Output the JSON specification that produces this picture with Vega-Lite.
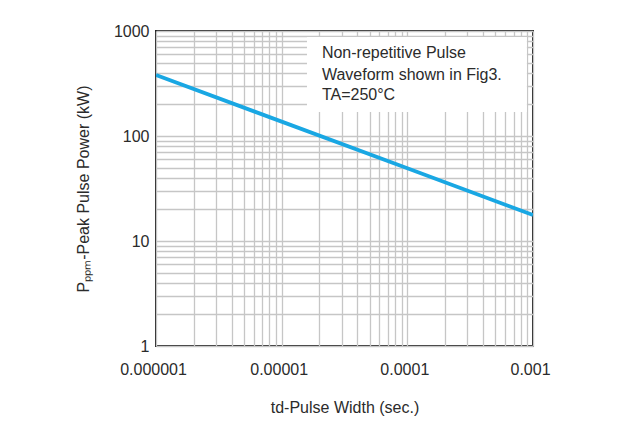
{
  "$schema": "https://vega.github.io/schema/vega-lite/v6.json",
  "width": 377,
  "height": 315,
  "autosize": {"type": "none"},
  "padding": {"left": 156, "top": 31, "right": 91, "bottom": 92},
  "background": "white",
  "config": {
    "font": "Liberation Sans",
    "view": {"stroke": "#222222", "strokeWidth": 2},
    "axis": {
      "domain": false,
      "ticks": false,
      "grid": true,
      "gridColor": "#c6c6c6",
      "gridWidth": 1.3,
      "labelFont": "Liberation Sans",
      "labelFontSize": 16,
      "labelColor": "#2b2b2b",
      "titleFont": "Liberation Sans",
      "titleFontSize": 16,
      "titleFontWeight": "normal",
      "titleColor": "#2b2b2b"
    }
  },
  "datasets": {
    "box": [{"x": 1.59e-5, "x2": 8.94e-4, "y": 169, "y2": 877}],
    "curve": [
      {"x": 1e-6, "y": 381},
      {"x": 1e-5, "y": 137},
      {"x": 1e-4, "y": 49.3},
      {"x": 1e-3, "y": 17.7}
    ],
    "notes": [
      {"x": 2.09e-5, "y": 617, "label": "Non-repetitive Pulse"},
      {"x": 2.09e-5, "y": 381, "label": "Waveform shown in Fig3."},
      {"x": 2.09e-5, "y": 246, "label": "TA=250°C"}
    ]
  },
  "encoding": {
    "x": {
      "field": "x",
      "type": "quantitative",
      "scale": {"type": "log", "domain": [0.000001, 0.001], "nice": false},
      "axis": {
        "title": "td-Pulse Width (sec.)",
        "values": [0.000001, 0.000002, 0.000003, 0.000004, 0.000005, 0.000006, 0.000007, 0.000008, 0.000009,
                   0.00001, 0.00002, 0.00003, 0.00004, 0.00005, 0.00006, 0.00007, 0.00008, 0.00009,
                   0.0001, 0.0002, 0.0003, 0.0004, 0.0005, 0.0006, 0.0007, 0.0008, 0.0009, 0.001],
        "format": ".6~f",
        "labelExpr": "abs(log(datum.value)/LN10 - round(log(datum.value)/LN10)) < 0.001 ? datum.label : ''",
        "labelFlush": false,
        "labelOverlap": false,
        "labelPadding": 15,
        "labelOffset": -3,
        "titlePadding": 22
      }
    },
    "y": {
      "field": "y",
      "type": "quantitative",
      "scale": {"type": "log", "domain": [1, 1000], "nice": false},
      "axis": {
        "title": "Pₚₚₘ-Peak Pulse Power (kW)",
        "values": [1, 2, 3, 4, 5, 6, 7, 8, 9, 10, 20, 30, 40, 50, 60, 70, 80, 90, 100, 200, 300, 400, 500, 600, 700, 800, 900, 1000],
        "format": "d",
        "labelExpr": "abs(log(datum.value)/LN10 - round(log(datum.value)/LN10)) < 0.001 ? datum.label : ''",
        "labelFlush": false,
        "labelOverlap": false,
        "labelPadding": 7,
        "titlePadding": 22
      }
    }
  },
  "layer": [
    {
      "data": {"name": "box"},
      "mark": {"type": "rect", "fill": "white", "stroke": null},
      "encoding": {"x2": {"field": "x2"}, "y2": {"field": "y2"}}
    },
    {
      "data": {"name": "curve"},
      "mark": {"type": "line", "color": "#19a7e3", "strokeWidth": 3.8, "clip": true}
    },
    {
      "data": {"name": "notes"},
      "mark": {"type": "text", "align": "left", "baseline": "middle", "fontSize": 16, "color": "#2b2b2b", "font": "Liberation Sans"},
      "encoding": {"text": {"field": "label"}}
    }
  ]
}
